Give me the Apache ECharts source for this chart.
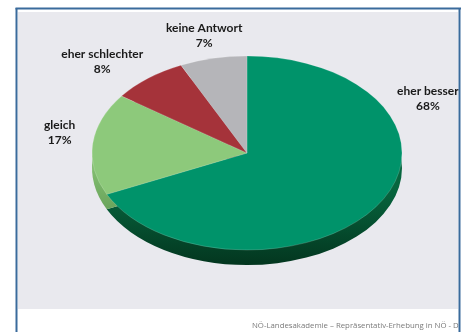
<!DOCTYPE html>
<html>
<head>
<meta charset="utf-8">
<script src="https://cdn.jsdelivr.net/npm/echarts@6/dist/echarts.min.js"></script>
<style>
  html, body { margin: 0; padding: 0; background: #fff; }
  #chart { width: 468px; height: 332px; }
</style>
</head>
<body>
<div id="chart"></div>
<script>
// answers, clockwise from 12 o'clock
var categories = ['eher besser', 'gleich', 'eher schlechter', 'keine Antwort'];
var shares = [68, 17, 8, 7];

var topColors = ['#00936A', '#8DC97B', '#A5333A', '#B5B5B9'];
var sideColors = [['#07663F', '#03361F'], ['#80BC6E', '#6AA45C'], ['#7E2329', '#5E171C'], ['#8E8E92', '#6E6E72']];
// label nudges from the slice's outer edge (Excel best-fit placement)
var labelNudge = [[50, -106], [-33, -11], [-46, -17], [-9, -23]];

var cx = 247, cy = 153, rx = 155, ry = 97, depth = 15;

var total = shares.reduce(function (a, b) { return a + b; }, 0);
var starts = [];
var acc = 0;
shares.forEach(function (v) { starts.push(acc); acc += v; });

function angles(i) {
  var a0 = -Math.PI / 2 + starts[i] / total * Math.PI * 2;
  var a1 = a0 + shares[i] / total * Math.PI * 2;
  return [a0, a1];
}

var myChart = echarts.init(document.getElementById('chart'));

myChart.setOption({
  backgroundColor: '#ffffff',
  animation: false,
  graphic: [
    { type: 'rect', z: 0, shape: { x: 18, y: 12, width: 440, height: 297 }, style: { fill: '#E9E9EE' } },
    {
      type: 'text', z: 0, x: 252, y: 326,
      style: {
        text: 'NÖ-Landesakademie – Repräsentativ-Erhebung in NÖ - D',
        fill: '#7A7A7A', font: '7.8px "Open Sans"', verticalAlign: 'middle'
      }
    },
    { type: 'rect', z: 50, shape: { x: 461, y: 0, width: 10, height: 332 }, style: { fill: '#ffffff' } },
    { type: 'line', z: 51, shape: { x1: 16.5, y1: 8, x2: 16.5, y2: 332 }, style: { stroke: '#3A6B9C', lineWidth: 2 } },
    { type: 'line', z: 51, shape: { x1: 15.5, y1: 8.5, x2: 461, y2: 8.5 }, style: { stroke: '#3A6B9C', lineWidth: 2 } },
    { type: 'line', z: 51, shape: { x1: 459.5, y1: 8, x2: 459.5, y2: 332 }, style: { stroke: '#3A6B9C', lineWidth: 2 } }
  ],
  series: [{
    // side of the disc
    type: 'custom',
    coordinateSystem: 'none',
    z: 2,
    data: shares,
    renderItem: function (params, api) {
      var i = params.dataIndex;
      var a = angles(i);
      return {
        type: 'sector',
        x: cx, y: cy + depth, scaleY: ry / rx,
        shape: { cx: 0, cy: 0, r0: 0, r: rx, startAngle: a[0], endAngle: a[1], clockwise: true },
        style: {
          fill: new echarts.graphic.LinearGradient(0, 0, 0, 1, [
            { offset: 0.6, color: sideColors[i][0] },
            { offset: 1, color: sideColors[i][1] }
          ])
        }
      };
    }
  }, {
    // top face and labels
    type: 'custom',
    coordinateSystem: 'none',
    z: 3,
    data: shares,
    renderItem: function (params, api) {
      var i = params.dataIndex;
      var a = angles(i);
      var mid = (a[0] + a[1]) / 2;
      var lx = cx + Math.cos(mid) * rx + labelNudge[i][0];
      var ly = cy + Math.sin(mid) * ry + labelNudge[i][1];
      return {
        type: 'group',
        children: [{
          type: 'sector',
          x: cx, y: cy, scaleY: ry / rx,
          shape: { cx: 0, cy: 0, r0: 0, r: rx, startAngle: a[0], endAngle: a[1], clockwise: true },
          style: { fill: topColors[i], stroke: 'rgba(255,255,255,0.35)', lineWidth: 0.6 }
        }, {
          type: 'text',
          x: lx, y: ly,
          style: {
            text: categories[i] + '\n' + api.value(0) + '%',
            fill: '#1A1A1A',
            fontFamily: 'Lato',
            fontWeight: 'bold',
            fontSize: 12,
            lineHeight: 15,
            align: 'center',
            verticalAlign: 'middle'
          }
        }]
      };
    }
  }]
});
</script>
</body>
</html>
